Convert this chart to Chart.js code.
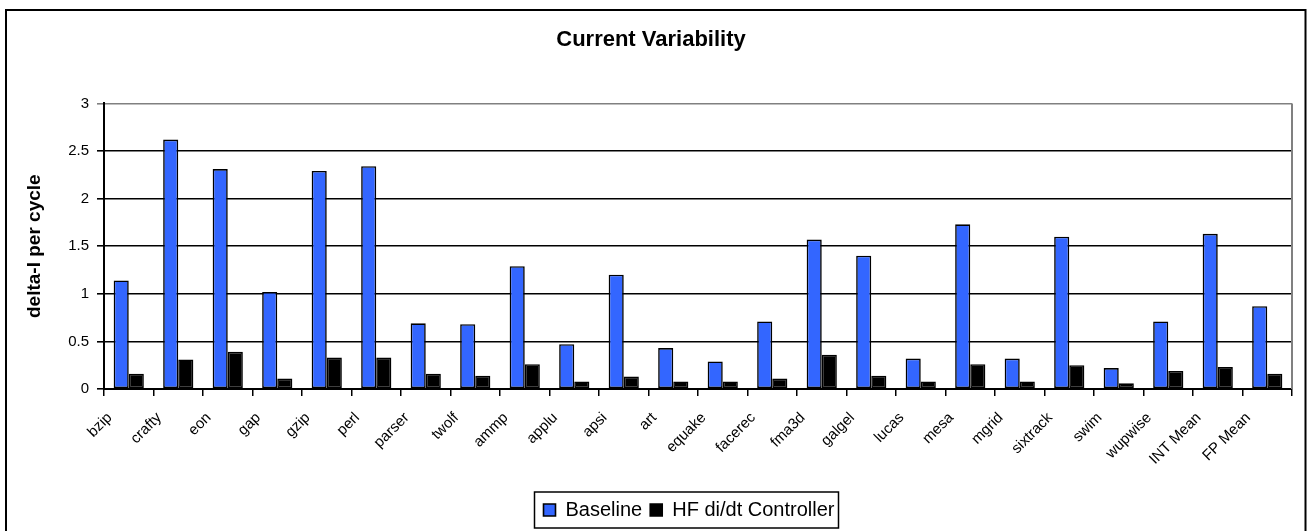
<!DOCTYPE html>
<html>
<head>
<meta charset="utf-8">
<script src="https://cdn.jsdelivr.net/npm/chart.js@4/dist/chart.umd.min.js"></script>
<style>
  html, body { margin: 0; padding: 0; background: #fff; }
  #wrap { position: relative; width: 1307px; height: 531px; }
</style>
</head>
<body>
<div id="wrap"><canvas id="chart" width="1307" height="531"></canvas></div>
<script>
// Benchmarks on the category axis
const categories = ['bzip', 'crafty', 'eon', 'gap', 'gzip', 'perl', 'parser', 'twolf',
  'ammp', 'applu', 'apsi', 'art', 'equake', 'facerec', 'fma3d', 'galgel', 'lucas',
  'mesa', 'mgrid', 'sixtrack', 'swim', 'wupwise', 'INT Mean', 'FP Mean'];

// delta-I per cycle, per benchmark
const baseline = [1.14, 2.62, 2.31, 1.02, 2.29, 2.34, 0.69, 0.68, 1.29, 0.47, 1.20, 0.43,
  0.29, 0.71, 1.57, 1.40, 0.32, 1.73, 0.32, 1.60, 0.22, 0.71, 1.63, 0.87];
const hfController = [0.16, 0.31, 0.39, 0.11, 0.33, 0.33, 0.16, 0.14, 0.26, 0.08, 0.13, 0.08,
  0.08, 0.11, 0.36, 0.14, 0.08, 0.26, 0.08, 0.25, 0.06, 0.19, 0.23, 0.16];

// Value-axis ticks and their labels
const yTicks = [0, 0.5, 1, 1.5, 2, 2.5, 3];
const yTickLabels = ['0', '0.5', '1', '1.5', '2', '2.5', '3'];

const FONT = "'Liberation Sans', Arial, Helvetica, sans-serif";
const LEGEND_SHIFT = 38; // legend sits right of centre

// Outer frame, right plot edge and the box around the legend
const framePlugin = {
  id: 'frame',
  afterLayout(chart) {
    const lg = chart.legend;
    if (lg) { lg.left += LEGEND_SHIFT; lg.right += LEGEND_SHIFT; }
  },
  beforeDraw(chart) {
    const ctx = chart.ctx;
    ctx.save();
    ctx.fillStyle = '#fff';
    ctx.fillRect(0, 0, chart.width, chart.height);
    ctx.strokeStyle = '#000';
    ctx.lineWidth = 2;
    ctx.strokeRect(6, 10, 1299.5, 600);
    ctx.restore();
  },
  afterDraw(chart) {
    const ctx = chart.ctx;
    const a = chart.chartArea;
    ctx.save();
    ctx.strokeStyle = '#808080';
    ctx.lineWidth = 2;
    ctx.beginPath();
    ctx.moveTo(a.right, a.top);
    ctx.lineTo(a.right, a.bottom);
    ctx.stroke();
    const boxes = chart.legend.legendHitBoxes;
    if (boxes && boxes.length) {
      let l = Infinity, r = -Infinity, t = Infinity, b = -Infinity;
      boxes.forEach(h => {
        l = Math.min(l, h.left); r = Math.max(r, h.left + h.width);
        t = Math.min(t, h.top); b = Math.max(b, h.top + h.height);
      });
      ctx.strokeStyle = '#000';
      ctx.lineWidth = 1.5;
      ctx.strokeRect(l - 9, t - 8, (r - l) + 13, (b - t) + 16);
    }
    ctx.restore();
  }
};

new Chart(document.getElementById('chart'), {
  type: 'bar',
  data: {
    labels: categories,
    datasets: [
      {
        label: 'Baseline',
        data: baseline,
        backgroundColor: '#3366FF',
        borderColor: '#000',
        borderWidth: 1.6,
        borderSkipped: false,
        categoryPercentage: 0.61,
        barPercentage: 1.0
      },
      {
        label: 'HF di/dt Controller',
        data: hfController,
        backgroundColor: '#000',
        borderColor: '#000',
        borderWidth: 1.6,
        borderSkipped: false,
        categoryPercentage: 0.61,
        barPercentage: 1.0
      }
    ]
  },
  options: {
    responsive: false,
    animation: false,
    devicePixelRatio: 1,
    layout: { padding: { left: 10, right: 15, top: 0, bottom: 1 } },
    plugins: {
      title: {
        display: true,
        text: 'Current Variability',
        color: '#000',
        font: { family: FONT, size: 22, weight: 'bold' },
        padding: { top: 27, bottom: 50 }
      },
      legend: {
        display: true,
        position: 'bottom',
        labels: {
          color: '#000',
          font: { family: FONT, size: 20 },
          boxWidth: 12,
          boxHeight: 12,
          padding: 8
        }
      },
      tooltip: { enabled: false }
    },
    scales: {
      x: {
        grid: {
          display: true,
          drawOnChartArea: false,
          drawTicks: true,
          tickLength: 7,
          color: '#000',
          lineWidth: 1.5
        },
        border: { display: true, color: '#000', width: 2 },
        ticks: {
          color: '#000',
          font: { family: FONT, size: 15 },
          minRotation: 45,
          maxRotation: 45,
          autoSkip: false,
          labelOffset: -19,
          padding: 13
        },
        afterFit(scale) { scale.height = 103; }
      },
      y: {
        min: 0,
        max: 3,
        afterBuildTicks(scale) { scale.ticks = yTicks.map(v => ({ value: v })); },
        grid: {
          color: ctx => (ctx.tick && ctx.tick.value === 3 ? '#808080' : '#000'),
          lineWidth: 1.6,
          tickLength: 7,
          drawTicks: true
        },
        border: { display: true, color: '#000', width: 2 },
        ticks: {
          color: '#000',
          font: { family: FONT, size: 15 },
          padding: 8,
          callback: (value, index) => yTickLabels[index]
        },
        title: {
          display: true,
          text: 'delta-I per cycle',
          color: '#000',
          font: { family: FONT, size: 19, weight: 'bold' },
          padding: { top: 13, bottom: 0 }
        },
        afterFit(scale) { scale.width = 94; }
      }
    }
  },
  plugins: [framePlugin]
});
</script>
</body>
</html>
